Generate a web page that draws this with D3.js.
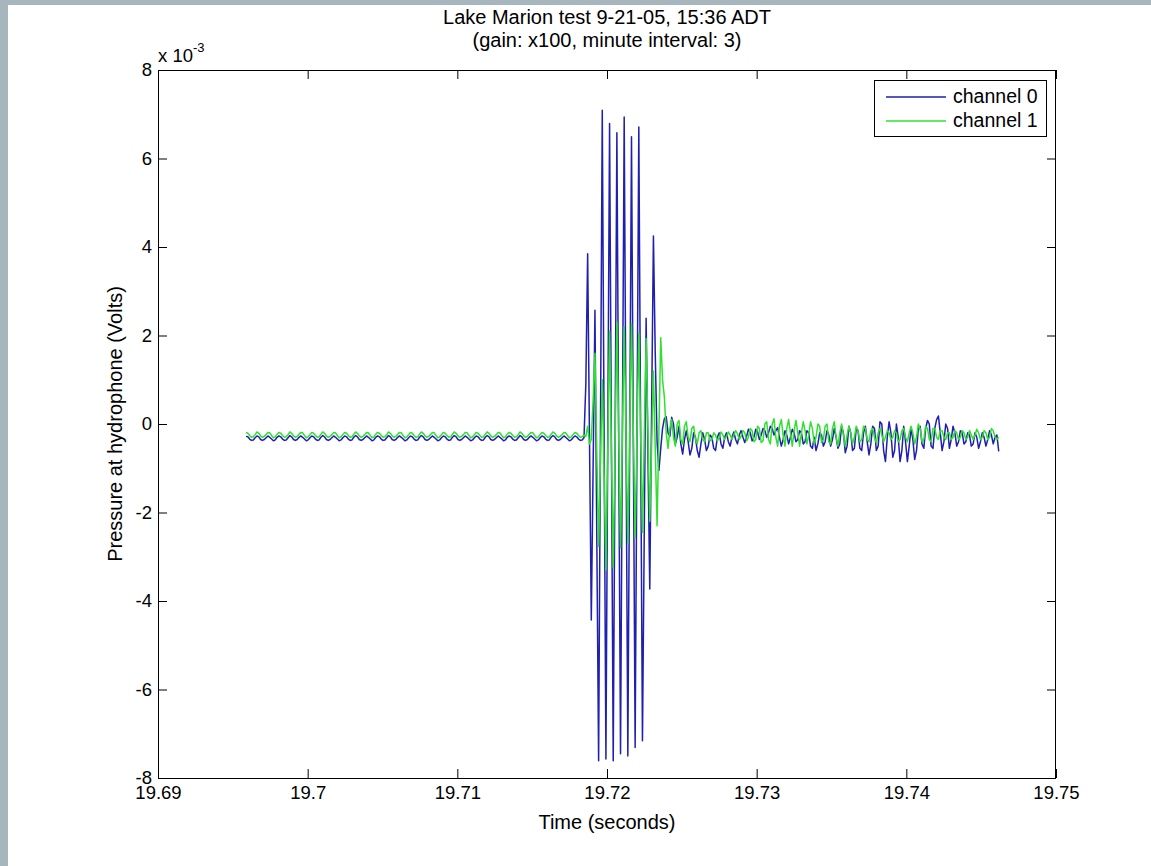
<!DOCTYPE html>
<html><head><meta charset="utf-8">
<script src="https://cdn.jsdelivr.net/npm/d3@7"></script>
<style>
html,body{margin:0;padding:0;background:#a7b5bc;}
svg{display:block;}
text{font-family:"Liberation Sans",Arial,Helvetica,sans-serif;fill:#000;}
</style></head><body>
<svg id="chart" width="1151" height="866"></svg>
<script>
// ---- data ----
const titleLines = ["Lake Marion test 9-21-05, 15:36 ADT", "(gain: x100, minute interval: 3)"];
const xLabel = "Time (seconds)";
const yLabel = "Pressure at hydrophone (Volts)";
const seriesNames = ["channel 0", "channel 1"];
const xTicks = [19.69, 19.70, 19.71, 19.72, 19.73, 19.74, 19.75];
const xTickLabels = ["19.69", "19.7", "19.71", "19.72", "19.73", "19.74", "19.75"];
const yTicks = [-8, -6, -4, -2, 0, 2, 4, 6, 8];
const yTickLabels = ["-8", "-6", "-4", "-2", "0", "2", "4", "6", "8"];
const yExponent = "-3";
const tStart = 19.69588;      // time of first sample (s)
const sampleRate = 8192;      // samples per second
// channel 0 (values in units of 1e-3 V)
const ch0 = [
-0.28,-0.29,-0.34,-0.37,-0.36,-0.31,-0.27,-0.29,-0.35,-0.37,-0.35,-0.31,
-0.27,-0.30,-0.34,-0.38,-0.36,-0.30,-0.27,-0.29,-0.34,-0.37,-0.36,-0.31,
-0.26,-0.29,-0.35,-0.37,-0.35,-0.30,-0.27,-0.30,-0.34,-0.38,-0.36,-0.31,
-0.27,-0.29,-0.34,-0.37,-0.36,-0.30,-0.26,-0.29,-0.35,-0.37,-0.35,-0.31,
-0.27,-0.30,-0.34,-0.38,-0.36,-0.31,-0.27,-0.29,-0.34,-0.37,-0.36,-0.30,
-0.26,-0.29,-0.35,-0.37,-0.35,-0.31,-0.27,-0.30,-0.34,-0.38,-0.36,-0.30,
-0.27,-0.29,-0.34,-0.37,-0.36,-0.31,-0.26,-0.29,-0.35,-0.37,-0.35,-0.30,
-0.27,-0.30,-0.34,-0.38,-0.36,-0.31,-0.27,-0.29,-0.34,-0.37,-0.36,-0.30,
-0.26,-0.29,-0.35,-0.37,-0.35,-0.31,-0.27,-0.30,-0.34,-0.38,-0.36,-0.31,
-0.27,-0.29,-0.34,-0.37,-0.36,-0.30,-0.26,-0.29,-0.35,-0.37,-0.35,-0.31,
-0.27,-0.30,-0.34,-0.38,-0.36,-0.31,-0.27,-0.29,-0.34,-0.37,-0.36,-0.30,
-0.26,-0.29,-0.35,-0.37,-0.35,-0.31,-0.27,-0.30,-0.34,-0.38,-0.36,-0.30,
-0.27,-0.29,-0.34,-0.37,-0.36,-0.31,-0.26,-0.29,-0.35,-0.37,-0.35,-0.30,
-0.27,-0.30,-0.34,-0.38,-0.36,-0.31,-0.27,-0.29,-0.34,-0.37,-0.36,-0.30,
-0.26,-0.29,-0.35,-0.37,-0.35,-0.31,-0.27,-0.30,-0.34,-0.38,-0.36,-0.31,
-0.27,-0.29,-0.34,-0.37,-0.36,-0.31,
0.90,3.85,-0.30,-4.43,-0.93,2.57,-2.52,-7.61,-0.26,7.09,
-0.24,-7.57,-0.39,6.79,-0.41,-7.61,-0.52,6.58,-0.44,-7.45,
-0.26,6.94,-0.28,-7.50,-0.51,6.49,-0.41,-7.31,-0.30,6.71,
-0.23,-7.16,-2.39,2.39,-0.67,-3.73,0.26,4.25,1.60,-0.40,
-1.05,
-0.55,-0.10,0.12,0.17,-0.20,-0.28,0.15,0.00,-0.45,-0.30,
-0.05,-0.45,-0.68,-0.35,-0.15,-0.40,-0.70,-0.55,-0.20,-0.30,
-0.60,-0.75,-0.45,-0.20,-0.35,-0.60,-0.50,-0.25,-0.30,-0.55,
-0.60,-0.30,-0.20,-0.45,-0.55,-0.30,-0.20,-0.40,-0.50,-0.30,
-0.18,-0.35,-0.45,-0.25,-0.15,-0.30,-0.42,-0.28,-0.12,-0.20,
-0.38,-0.30,-0.12,-0.18,-0.35,-0.25,-0.10,-0.15,-0.30,-0.20,
-0.05,-0.10,-0.25,-0.15,-0.08,-0.30,-0.50,-0.35,-0.15,-0.25,
-0.45,-0.30,-0.12,-0.20,-0.40,-0.35,-0.15,-0.20,-0.45,-0.40,
-0.15,-0.20,-0.50,-0.55,-0.30,-0.60,-0.45,-0.20,-0.25,-0.50,
-0.40,-0.15,-0.25,-0.50,-0.35,-0.10,-0.30,-0.55,-0.45,-0.05,
-0.20,-0.65,-0.50,-0.05,-0.20,-0.60,-0.55,-0.10,-0.15,-0.55,
-0.60,-0.20,-0.05,-0.40,-0.70,-0.45,-0.05,-0.10,-0.60,-0.50,
0.05,0.00,-0.60,-0.85,-0.30,0.05,-0.20,-0.75,-0.60,0.00,
-0.30,-0.85,-0.60,-0.05,-0.40,-0.85,-0.50,-0.10,-0.35,-0.80,
-0.60,-0.10,-0.05,-0.45,-0.55,-0.10,0.08,0.00,-0.50,-0.55,
-0.10,0.10,0.18,-0.20,-0.60,-0.40,0.00,-0.10,-0.55,-0.35,
-0.05,-0.20,-0.50,-0.40,-0.15,-0.20,-0.45,-0.40,-0.20,-0.25,
-0.50,-0.45,-0.20,-0.30,-0.55,-0.40,-0.20,-0.30,-0.50,-0.35,
-0.15,-0.25,-0.45,-0.30,-0.25,-0.62
];
// channel 1 (values in units of 1e-3 V)
const ch1 = [
-0.19,-0.21,-0.26,-0.30,-0.29,-0.24,-0.18,-0.21,-0.27,-0.30,-0.28,-0.24,
-0.19,-0.20,-0.26,-0.31,-0.29,-0.23,-0.19,-0.21,-0.26,-0.30,-0.29,-0.24,
-0.18,-0.21,-0.27,-0.30,-0.28,-0.23,-0.19,-0.20,-0.26,-0.31,-0.29,-0.24,
-0.19,-0.21,-0.26,-0.30,-0.29,-0.23,-0.18,-0.21,-0.27,-0.30,-0.28,-0.24,
-0.19,-0.20,-0.26,-0.31,-0.29,-0.24,-0.19,-0.21,-0.26,-0.30,-0.29,-0.23,
-0.18,-0.21,-0.27,-0.30,-0.28,-0.24,-0.19,-0.20,-0.26,-0.31,-0.29,-0.23,
-0.19,-0.21,-0.26,-0.30,-0.29,-0.24,-0.18,-0.21,-0.27,-0.30,-0.28,-0.23,
-0.19,-0.20,-0.26,-0.31,-0.29,-0.24,-0.19,-0.21,-0.26,-0.30,-0.29,-0.23,
-0.18,-0.21,-0.27,-0.30,-0.28,-0.24,-0.19,-0.20,-0.26,-0.31,-0.29,-0.24,
-0.19,-0.21,-0.26,-0.30,-0.29,-0.23,-0.18,-0.21,-0.27,-0.30,-0.28,-0.24,
-0.19,-0.20,-0.26,-0.31,-0.29,-0.24,-0.19,-0.21,-0.26,-0.30,-0.29,-0.23,
-0.18,-0.21,-0.27,-0.30,-0.28,-0.24,-0.19,-0.20,-0.26,-0.31,-0.29,-0.23,
-0.19,-0.21,-0.26,-0.30,-0.29,-0.24,-0.18,-0.21,-0.27,-0.30,-0.28,-0.23,
-0.19,-0.20,-0.26,-0.31,-0.29,-0.24,-0.19,-0.21,-0.26,-0.30,-0.29,-0.23,
-0.18,-0.21,-0.27,-0.30,-0.28,-0.24,-0.19,-0.20,-0.26,-0.31,-0.29,-0.24,
-0.19,-0.21,-0.26,-0.30,-0.29,-0.25,
-0.28,-0.05,-0.45,-0.35,0.55,1.60,-0.60,-2.77,-0.85,1.00,
-1.15,-3.30,-0.60,2.10,-0.57,-3.24,-0.47,2.30,-0.25,-2.80,
-0.30,2.20,-0.25,-2.70,-0.21,2.27,-0.15,-2.56,-0.25,2.05,
-0.20,-2.45,-0.26,1.93,-0.15,-2.20,-0.50,1.20,-0.55,-2.30,
-0.18,
1.95,1.00,0.60,-0.20,-0.55,-0.10,0.10,-0.30,-0.50,0.00,
0.08,-0.35,-0.45,-0.05,0.05,-0.30,-0.40,-0.10,-0.05,-0.35,
-0.45,-0.20,-0.15,-0.35,-0.40,-0.20,-0.20,-0.38,-0.35,-0.20,
-0.25,-0.38,-0.30,-0.18,-0.25,-0.35,-0.28,-0.18,-0.25,-0.35,
-0.25,-0.15,-0.22,-0.35,-0.28,-0.15,-0.20,-0.38,-0.30,-0.10,
-0.15,-0.40,-0.35,-0.05,-0.10,-0.42,-0.38,0.00,0.05,-0.35,
-0.45,0.00,0.12,-0.30,-0.50,-0.05,0.10,-0.25,-0.50,-0.10,
0.10,-0.20,-0.50,-0.15,0.08,-0.20,-0.50,-0.20,0.05,-0.15,
-0.45,-0.25,0.05,-0.10,-0.45,-0.30,0.00,-0.05,-0.42,-0.35,
-0.05,0.00,-0.40,-0.45,-0.10,0.05,-0.30,-0.50,-0.20,0.00,
-0.25,-0.50,-0.25,-0.05,-0.20,-0.45,-0.30,-0.05,-0.15,-0.40,
-0.35,-0.05,-0.10,-0.35,-0.40,-0.15,-0.10,-0.30,-0.42,-0.20,
-0.10,-0.25,-0.40,-0.30,-0.15,-0.20,-0.35,-0.30,-0.15,-0.20,
-0.40,-0.35,-0.15,-0.10,-0.30,-0.40,-0.20,-0.05,-0.20,-0.45,
-0.30,0.00,-0.10,-0.40,-0.35,-0.05,-0.10,-0.35,-0.40,-0.10,
-0.10,-0.30,-0.35,-0.15,-0.15,-0.30,-0.35,-0.20,-0.20,-0.35,
-0.30,-0.15,-0.20,-0.35,-0.30,-0.15,-0.20,-0.35,-0.30,-0.15,
-0.25,-0.35,-0.25,-0.12,-0.20,-0.35,-0.30,-0.15,-0.20,-0.35,
-0.30,-0.10,-0.15,-0.30,-0.35,-0.30
];
const seriesColors = ["#1f1fb0", "#2fe02f"];

// ---- drawing ----
const W = 1151, H = 866;
const L = 158, R = 1056, T = 70, B = 778;
const FS = 18.5;      // tick labels
const FS_LABEL = 20;  // title and axis labels
const FS_LEG = 19.5;  // legend
const svg = d3.select("#chart");
svg.append("rect").attr("x", 8).attr("y", 5).attr("width", W - 8).attr("height", H - 5).attr("fill", "#fff");

const x = d3.scaleLinear().domain([19.69, 19.75]).range([L, R]);
const y = d3.scaleLinear().domain([-8, 8]).range([B, T]);
const timeOf = i => tStart + i / sampleRate;

svg.append("defs").append("clipPath").attr("id", "clip")
  .append("rect").attr("x", L).attr("y", T).attr("width", R - L).attr("height", B - T);

const line = d3.line().x((d, i) => x(timeOf(i))).y(d => y(d));
const plot = svg.append("g").attr("clip-path", "url(#clip)");
[ch0, ch1].forEach((s, k) => {
  plot.append("path").datum(s).attr("d", line)
    .attr("fill", "none").attr("stroke", seriesColors[k])
    .attr("stroke-width", 1.5).attr("stroke-linejoin", "round");
});

function styleAxis(g) {
  g.select(".domain").remove();
  g.selectAll(".tick line").attr("stroke", "#000").attr("stroke-width", 1);
  g.selectAll(".tick text").attr("font-size", FS).attr("fill", "#000")
    .attr("font-family", '"Liberation Sans", Arial, sans-serif');
}
svg.append("g").attr("transform", `translate(0,${B})`)
  .call(d3.axisBottom(x).tickValues(xTicks).tickFormat((d, i) => xTickLabels[i]).tickSize(-9).tickPadding(8))
  .call(styleAxis);
svg.append("g").attr("transform", `translate(0,${T})`)
  .call(d3.axisTop(x).tickValues(xTicks).tickFormat("").tickSize(-9))
  .call(styleAxis);
svg.append("g").attr("transform", `translate(${L},0)`)
  .call(d3.axisLeft(y).tickValues(yTicks).tickFormat((d, i) => yTickLabels[i]).tickSize(-9).tickPadding(6))
  .call(styleAxis);
svg.append("g").attr("transform", `translate(${R},0)`)
  .call(d3.axisRight(y).tickValues(yTicks).tickFormat("").tickSize(-9))
  .call(styleAxis);

svg.append("rect").attr("x", L + 0.5).attr("y", T + 0.5).attr("width", R - L - 1).attr("height", B - T)
  .attr("fill", "none").attr("stroke", "#000").attr("stroke-width", 1);

// exponent
const ex = svg.append("text").attr("x", L).attr("y", 62).attr("font-size", FS);
ex.append("tspan").text("x 10");
ex.append("tspan").attr("dy", -10).attr("font-size", 13).text(yExponent);

// titles
svg.append("text").attr("x", (L + R) / 2).attr("y", 24).attr("text-anchor", "middle").attr("font-size", FS_LABEL).text(titleLines[0]);
svg.append("text").attr("x", (L + R) / 2).attr("y", 47).attr("text-anchor", "middle").attr("font-size", FS_LABEL).text(titleLines[1]);
svg.append("text").attr("x", (L + R) / 2).attr("y", 829).attr("text-anchor", "middle").attr("font-size", FS_LABEL).text(xLabel);
svg.append("text").attr("transform", `translate(122,${(T + B) / 2}) rotate(-90)`)
  .attr("text-anchor", "middle").attr("font-size", FS_LABEL).text(yLabel);

// legend
const lg = svg.append("g");
lg.append("rect").attr("x", 874.5).attr("y", 80.5).attr("width", 172).attr("height", 56)
  .attr("fill", "#fff").attr("stroke", "#000").attr("stroke-width", 1);
seriesNames.forEach((n, k) => {
  const yy = 97 + k * 24;
  lg.append("line").attr("x1", 886).attr("x2", 946).attr("y1", yy).attr("y2", yy)
    .attr("stroke", seriesColors[k]).attr("stroke-width", 1.3);
  lg.append("text").attr("x", 953).attr("y", yy + 6).attr("font-size", FS_LEG).text(n);
});
</script>
</body></html>
